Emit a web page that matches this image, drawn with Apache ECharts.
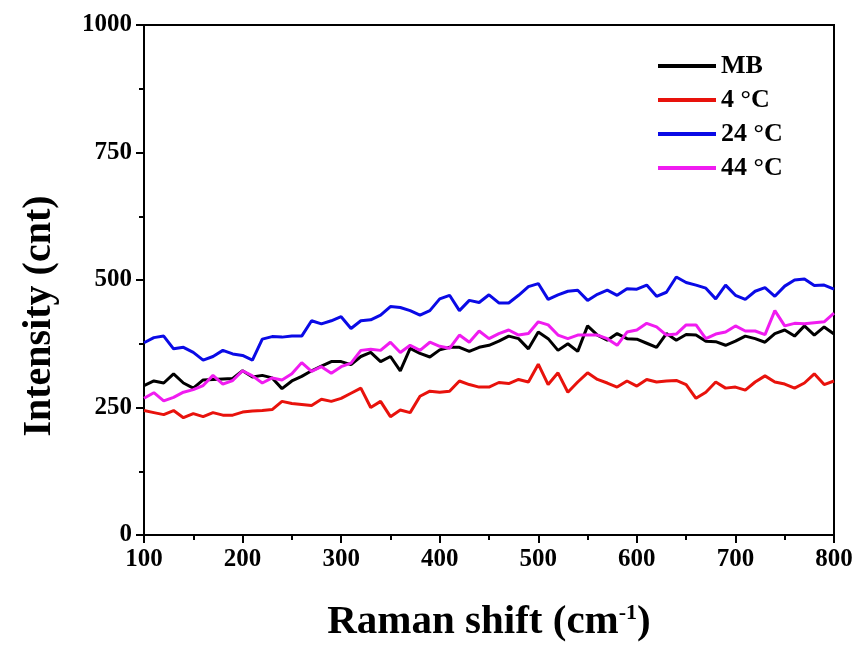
<!doctype html>
<html lang="en">
<head>
    <meta charset="UTF-8">
    <title>Raman shift</title>
    <style>
        html, body { margin: 0; padding: 0; background: #fff; }
        #chart { width: 859px; height: 655px; }
    </style>
</head>
<body>
<div id="chart"></div>
<script src="https://cdn.jsdelivr.net/npm/echarts@6/dist/echarts.min.js"></script>
<script>
    // Raman shift (cm-1), 100 .. 800 step 10
    var shift = [];
    for (var s = 100; s <= 800; s += 10) shift.push(s);

    var names = ['MB', '4 °C', '24 °C', '44 °C'];
    var colors = ['#000000', '#e8120c', '#0a0ae6', '#f01cf0'];

    var mb = [293, 302, 298, 316, 298, 288, 304, 305, 306, 307, 322, 310,
        313, 308, 287, 302, 311, 322, 331, 340, 340, 334, 350,
        358, 340, 350, 322, 366, 356, 349, 363, 368, 368, 360, 368,
        372, 380, 390, 385, 365, 398, 385, 362, 375, 360, 410, 392,
        382, 395, 385, 384, 376, 368, 395, 382, 393, 392, 380,
        379, 372, 380, 390, 385, 378, 395, 402, 390, 410, 392, 408, 394];
    var c4 = [244, 240, 236, 244, 230, 238, 232, 240, 235, 235, 241, 243,
        244, 246, 262, 258, 256, 254, 266, 262, 268, 278, 288,
        250, 262, 232, 245, 240, 272, 282, 280, 282, 302, 295, 290,
        290, 299, 297, 305, 300, 335, 295, 318, 280, 300, 318, 305,
        298, 290, 302, 292, 305, 300, 302, 303, 295, 268, 280,
        300, 288, 290, 284, 300, 312, 300, 296, 288, 298, 316, 295, 302];
    var c24 = [377, 387, 390, 365, 368, 358, 343, 350, 362, 355, 352, 343,
        384, 389, 388, 390, 390, 420, 414, 420, 428, 405, 420,
        422, 431, 448, 446, 440, 431, 440, 463, 470, 440, 460, 456,
        471, 455, 455, 470, 487, 493, 462, 471, 478, 480, 460, 472,
        480, 470, 483, 482, 490, 468, 476, 506, 495, 490, 484,
        463, 490, 470, 462, 478, 485, 468, 488, 500, 502, 489, 490, 482];
    var c44 = [268, 279, 263, 270, 280, 285, 293, 313, 296, 303, 322, 312,
        298, 308, 304, 316, 338, 321, 330, 317, 330, 337, 362,
        364, 362, 378, 358, 372, 362, 378, 370, 366, 392, 378, 400,
        385, 395, 402, 392, 395, 418, 412, 392, 385, 392, 392, 392,
        385, 372, 398, 402, 415, 408, 392, 394, 412, 412, 385,
        394, 398, 410, 400, 400, 393, 440, 410, 415, 414, 416, 418, 435];

    var yTicks = [0, 250, 500, 750, 1000];

    var font = 'Liberation Serif';
    var allData = [mb, c4, c24, c44];

    var chart = echarts.init(document.getElementById('chart'));
    chart.setOption({
        animation: false,
        backgroundColor: '#fff',
        grid: {
            left: 144, right: 25, top: 25, bottom: 120,
            show: true, borderColor: '#000', borderWidth: 2
        },
        legend: {
            orient: 'vertical',
            left: 658, top: 53,
            padding: 0,
            icon: 'rect',
            itemWidth: 58, itemHeight: 4, itemGap: 8,
            textStyle: { fontFamily: font, fontWeight: 'bold', fontSize: 26, color: '#000' },
            data: names
        },
        xAxis: {
            type: 'value', min: 100, max: 800, interval: 100,
            name: '{t|Raman shift (cm}{s|-1}{t|)}',
            nameLocation: 'middle', nameGap: 67,
            nameTextStyle: {
                rich: {
                    t: { fontFamily: font, fontWeight: 'bold', fontSize: 41, color: '#000' },
                    s: { fontFamily: font, fontWeight: 'bold', fontSize: 22, color: '#000', verticalAlign: 'top', padding: [0, 0, 16, 0] }
                }
            },
            axisLine: { lineStyle: { color: '#000', width: 2 } },
            axisTick: { inside: false, length: 8, lineStyle: { width: 2 } },
            minorTick: { show: true, splitNumber: 2, length: 5, lineStyle: { color: '#000', width: 2 } },
            axisLabel: { fontFamily: font, fontWeight: 'bold', fontSize: 25, color: '#000', margin: 12 },
            splitLine: { show: false }
        },
        yAxis: {
            type: 'value', min: yTicks[0], max: yTicks[yTicks.length - 1], interval: 250,
            name: 'Intensity (cnt)',
            nameLocation: 'middle', nameGap: 84,
            nameTextStyle: { fontFamily: font, fontWeight: 'bold', fontSize: 40, color: '#000', padding: [0, 72, 0, 0] },
            axisLine: { lineStyle: { color: '#000', width: 2 } },
            axisTick: { inside: false, length: 8, lineStyle: { width: 2 } },
            minorTick: { show: true, splitNumber: 2, length: 5, lineStyle: { color: '#000', width: 2 } },
            axisLabel: {
                fontFamily: font, fontWeight: 'bold', fontSize: 25, color: '#000', margin: 12,
                formatter: function (v) { return String(v); }
            },
            splitLine: { show: false }
        },
        series: names.map(function (n, i) {
            return {
                name: n,
                type: 'line',
                symbol: 'none',
                color: colors[i],
                lineStyle: { width: 3, color: colors[i] },
                data: shift.map(function (x, j) { return [x, allData[i][j]]; })
            };
        })
    });
</script>
</body>
</html>
